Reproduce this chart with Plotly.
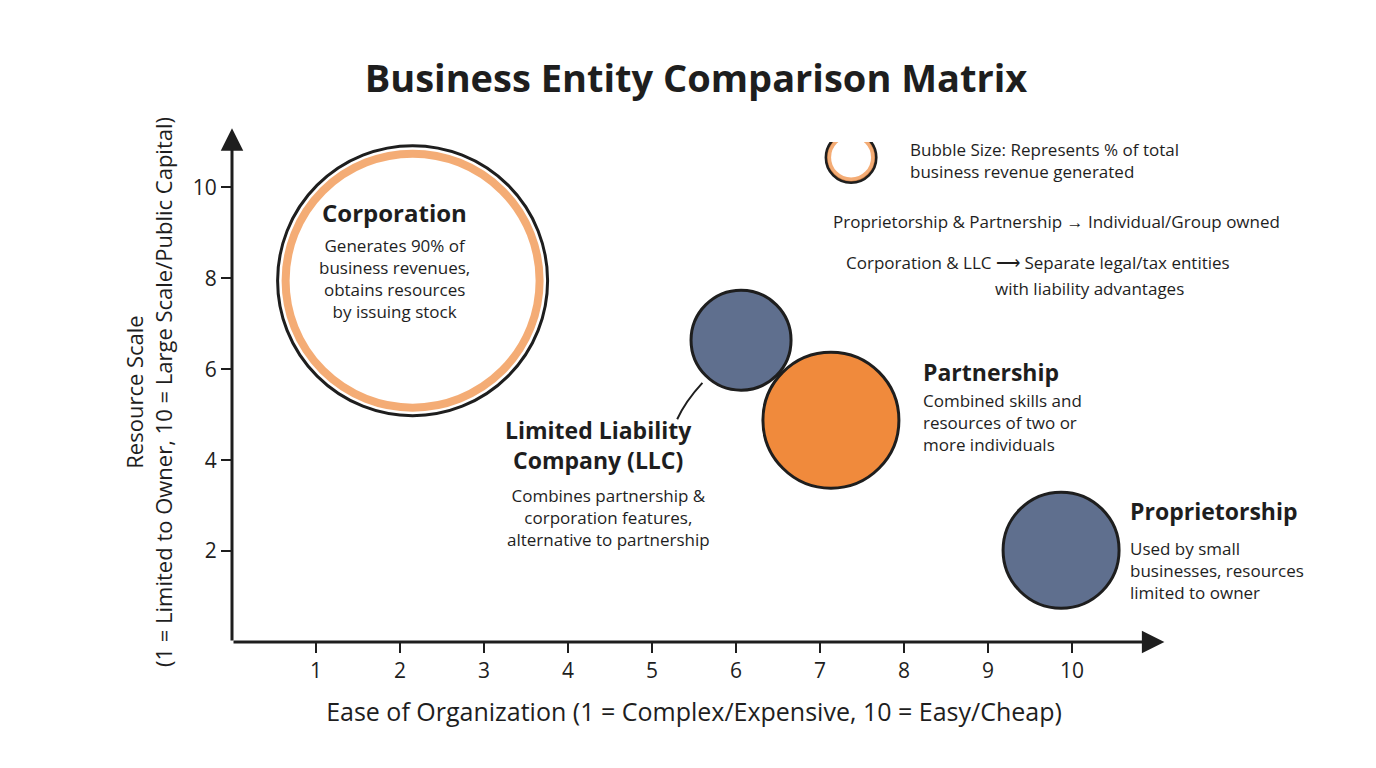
import plotly.graph_objects as go

# entity bubbles
entities = ["Corporation", "Limited Liability Company (LLC)", "Partnership", "Proprietorship"]
ease = [2.15, 6.06, 7.13, 9.87]
resource = [7.95, 6.64, 4.88, 2.02]
bubble_size = [270, 100, 136, 116]
fills = ["#FFFFFF", "#5F6F8E", "#F08A3C", "#5F6F8E"]

x_ticks = [1, 2, 3, 4, 5, 6, 7, 8, 9, 10]
y_ticks = [2, 4, 6, 8, 10]

FONT = "Open Sans"
INK = "#1E1E1E"

fig = go.Figure()
fig.add_trace(go.Scatter(
    x=ease, y=resource, mode="markers",
    marker=dict(size=bubble_size, sizemode="diameter", color=fills,
                line=dict(color=INK, width=3), opacity=1),
    hovertext=entities, showlegend=False,
))
# legend bubble
fig.add_trace(go.Scatter(
    x=[7.37], y=[10.66], mode="markers",
    marker=dict(size=50, color="#FFFFFF", line=dict(color=INK, width=3)),
    showlegend=False, hoverinfo="skip",
))
# orange rings on corporation and legend bubble
fig.add_trace(go.Scatter(
    x=[2.15, 7.37], y=[7.95, 10.66], mode="markers",
    marker=dict(size=[254, 44], color="rgba(0,0,0,0)", line=dict(color="#F08A3C", width=[8, 4])),
    showlegend=False, hoverinfo="skip",
))

notes = [
    (1.93, 9.45, "<b>Corporation</b>", 24, "center"),
    (1.93, 8.0, "Generates 90% of<br>business revenues,<br>obtains resources<br>by issuing stock", 17, "center"),
    (4.36, 4.33, "<b>Limited Liability<br>Company (LLC)</b>", 23, "center"),
    (4.48, 2.75, "Combines partnership &<br>corporation features,<br>alternative to partnership", 17, "center"),
    (8.2, 5.93, "<b>Partnership</b>", 23, "left"),
    (8.2, 4.83, "Combined skills and<br>resources of two or<br>more individuals", 17, "left"),
    (10.67, 2.88, "<b>Proprietorship</b>", 23, "left"),
    (10.67, 1.58, "Used by small<br>businesses, resources<br>limited to owner", 17, "left"),
    (8.05, 10.6, "Bubble Size: Represents % of total<br>business revenue generated", 17, "left"),
    (7.13, 9.25, "Proprietorship & Partnership → Individual/Group owned", 17, "left"),
    (7.29, 8.35, "Corporation & LLC ⟶ Separate legal/tax entities", 17, "left"),
]
for x, y, t, s, a in notes:
    fig.add_annotation(x=x, y=y, text=t, showarrow=False, xanchor=a,
                       align=a, font=dict(family=FONT, size=s, color=INK))
fig.add_annotation(x=1.032, y=7.78, xref="paper", yref="y", text="with liability advantages",
                   showarrow=False, font=dict(family=FONT, size=17, color=INK))

# axis arrows
fig.add_annotation(x=11.1, y=0, ax=0, ay=0, axref="x", ayref="y", xref="x", yref="y",
                   showarrow=True, arrowhead=2, arrowsize=1.5, arrowwidth=3, arrowcolor=INK, text="")
fig.add_annotation(x=0, y=11.3, ax=0, ay=0, axref="x", ayref="y", xref="x", yref="y",
                   showarrow=True, arrowhead=2, arrowsize=1.5, arrowwidth=3, arrowcolor=INK, text="")
# LLC pointer
fig.add_shape(type="path", path="M 5.6,5.7 Q 5.4,5.3 5.3,4.9", line=dict(color=INK, width=2))

fig.update_layout(
    width=1376, height=768,
    margin=dict(l=224, r=228, t=134, b=134),
    paper_bgcolor="white", plot_bgcolor="white",
    title=dict(text="<b>Business Entity Comparison Matrix</b>", x=0.5, y=0.925, xanchor="center",
               font=dict(family=FONT, size=38, color=INK)),
    font=dict(family=FONT, color=INK),
)
fig.update_xaxes(range=[0, 11], tickvals=x_ticks, showgrid=False, zeroline=False,
                 showline=False, ticks="outside", ticklen=10, tickwidth=2, tickcolor=INK,
                 tickfont=dict(size=21),
                 title=dict(text="Ease of Organization (1 = Complex/Expensive, 10 = Easy/Cheap)",
                            font=dict(size=25), standoff=20))
fig.update_yaxes(range=[0, 11], tickvals=y_ticks, showgrid=False, zeroline=False,
                 showline=False, ticks="outside", ticklen=10, tickwidth=2, tickcolor=INK,
                 tickfont=dict(size=21),
                 title=dict(text="Resource Scale<br>(1 = Limited to Owner, 10 = Large Scale/Public Capital)",
                            font=dict(size=22), standoff=14))

fig.write_html("out.html")
